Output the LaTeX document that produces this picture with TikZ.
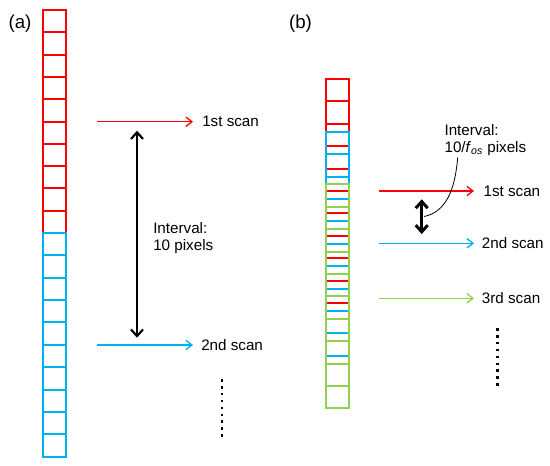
\documentclass[tikz,border=0pt]{standalone}
\usepackage{fontspec}
\setmainfont{Liberation Sans}
\usetikzlibrary{arrows.meta}
\definecolor{cred}{HTML}{FF0000}
\definecolor{cblue}{HTML}{00B0F0}
\definecolor{cgreen}{HTML}{92D050}
\tikzset{
  cell/.style={line width=1.5pt},
  scanarrow/.style={line width=1pt,-{Straight Barb[length=4.5pt,width=7pt,line width=1pt]}},
  dblarrow/.style={line width=1.6pt,{Straight Barb[length=5pt,width=9pt,line width=1.6pt]}-{Straight Barb[length=5pt,width=9pt,line width=1.6pt]}},
  dblarrowb/.style={line width=2.2pt,{Straight Barb[length=5pt,width=9pt,line width=2.2pt]}-{Straight Barb[length=5pt,width=9pt,line width=2.2pt]}},
  lbl/.style={inner sep=0pt,font=\fontsize{11.4}{12.75}\selectfont},
  panel/.style={inner sep=0pt,font=\fontsize{14}{16}\selectfont},
  dot/.style={fill=black}
}
\begin{document}
\begin{tikzpicture}[x=0.75pt,y=-0.75pt]
\useasboundingbox (0,0) rectangle (550,465);
% ---------- panel (a) ----------
\node[panel,anchor=center] (la) at (20,24) {(a)};
\foreach \i in {0,...,9} {
  \draw[cell,cred] (43,{10+22.3*\i}) rectangle (66,{10+22.3*(\i+1)});
}
\foreach \i in {0,...,9} {
  \draw[cell,cblue] (43,{233+22.37*\i}) rectangle (66,{233+22.37*(\i+1)});
}
\coordinate (a1s) at (97,121.7);
\coordinate (a1e) at (193,121.7);
\coordinate (a2s) at (97,345);
\coordinate (a2e) at (193,345);
\draw[scanarrow,cred] (a1s) -- (a1e);
\draw[scanarrow,cblue] (a2s) -- (a2e);
\node[lbl,anchor=west] (a1t) at (202,121.7) {1st scan};
\node[lbl,anchor=west] (a2t) at (201,345) {2nd scan};
\coordinate (ia) at (137,130.7);
\coordinate (ib) at (137,337.7);
\draw[dblarrow] (ia) -- (ib);
\node[lbl,anchor=north west,align=left] (inta) at (153,222.7) {Interval:\\10 pixels};
\foreach \k in {0,...,8} {
  \fill[dot] ({221.7-1.2},{380.5+6.85*\k-1.2}) rectangle ++(2.4,2.4);
}
% ---------- panel (b) ----------
\node[panel,anchor=center] (lb) at (300.5,23.5) {(b)};
\foreach \i in {0,...,9} {
  \draw[cell,cred] (326,{79+22.4*\i}) rectangle (348.5,{79+22.4*(\i+1)});
}
\foreach \i in {0,...,9} {
  \draw[cell,cblue] (326,{131.7+22.4*\i}) rectangle (348.5,{131.7+22.4*(\i+1)});
}
\foreach \i in {0,...,9} {
  \draw[cell,cgreen] (326,{184.3+22.4*\i}) rectangle (348.5,{184.3+22.4*(\i+1)});
}
\coordinate (b1s) at (379,191);
\coordinate (b1e) at (474,191);
\coordinate (b2s) at (379,243.3);
\coordinate (b2e) at (474,243.3);
\coordinate (b3s) at (379,298.3);
\coordinate (b3e) at (474,298.3);
\draw[scanarrow,cred] (b1s) -- (b1e);
\draw[scanarrow,cblue] (b2s) -- (b2e);
\draw[scanarrow,cgreen] (b3s) -- (b3e);
\node[lbl,anchor=west] (b1t) at (483.3,191) {1st scan};
\node[lbl,anchor=west] (b2t) at (481.7,243.3) {2nd scan};
\node[lbl,anchor=west] (b3t) at (481.7,298.3) {3rd scan};
\coordinate (ja) at (421.7,199.3);
\coordinate (jb) at (421.7,234);
\draw[dblarrowb] (ja) -- (jb);
\node[lbl,anchor=north west,align=left] (intb) at (444.3,124) {Interval:\\10/\textit{f}\textsubscript{\textit{os}} pixels};
\coordinate (cs) at (424,216.5);
\coordinate (ce) at (457.7,157.5);
\draw[line width=0.6pt] (cs) .. controls (446,212) and (455,190) .. (ce);
\foreach \k in {0,...,8} {
  \fill[dot] ({497.3-1.2},{329.5+6.85*\k-1.2}) rectangle ++(2.4,2.4);
}
\end{tikzpicture}
\end{document}
